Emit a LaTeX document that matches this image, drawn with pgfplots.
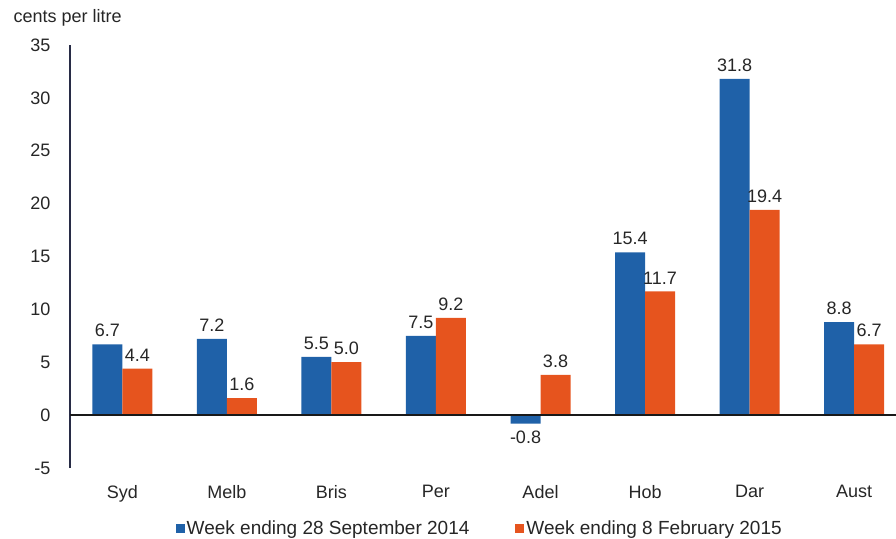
\documentclass[border=0pt]{standalone}
\usepackage{pgfplots}
\pgfplotsset{compat=1.18}
\usepackage{fontspec}
\setmainfont{Liberation Sans}
\definecolor{cblue}{RGB}{31,97,168}
\definecolor{corange}{RGB}{230,84,30}
\definecolor{caxis}{RGB}{40,44,70}
\begin{document}
\begin{tikzpicture}
\path[use as bounding box] (-70bp,-71bp) rectangle (826bp,468bp);
\begin{axis}[
  scale only axis, width=826bp, height=423bp,
  ybar=0pt, bar width=30bp,
  xmin=-0.5, xmax=7.4, ymin=-5, ymax=35,
  ytick={-5,0,5,10,15,20,25,30,35},
  xtick={0,1,2,3,4,5,6,7},
  xticklabels={Syd,Melb,Bris,Per,Adel,Hob,Dar,Aust},
  axis y line=left, axis x line=bottom,
  y axis line style={-, draw=caxis, line width=1.3pt},
  x axis line style={draw=none},
  major tick length=0pt,
  tick label style={font=\fontsize{18bp}{20bp}\selectfont, text=black!85},
  yticklabel style={xshift=-16bp},
  xticklabel style={yshift=-14bp},
  /pgf/number format/assume math mode=true,
  clip=false,
  nodes near coords,
  nodes near coords style={font=\fontsize{18bp}{20bp}\selectfont, text=black!85, inner sep=7bp, /pgf/number format/.cd, fixed, fixed zerofill, precision=1, assume math mode=true},
  legend style={at={(rel axis cs:0.496,0)}, anchor=center, yshift=-60bp, draw=none, fill=none,
    font=\fontsize{19bp}{21bp}\selectfont, text=black!85,
    /tikz/every even column/.append style={column sep=44bp}},
  legend columns=2,
  legend image code/.code={\fill[#1] (0bp,-4.5bp) rectangle (9bp,4.5bp);},
]
\addplot[fill=cblue, draw=none] coordinates {(0,6.7) (1,7.2) (2,5.5) (3,7.5) (4,-0.8) (5,15.4) (6,31.8) (7,8.8)};
\addplot[fill=corange, draw=none] coordinates {(0,4.4) (1,1.6) (2,5.0) (3,9.2) (4,3.8) (5,11.7) (6,19.4) (7,6.7)};
\legend{Week ending 28 September 2014, Week ending 8 February 2015}
\draw[black!90, line width=1.3pt] (axis cs:-0.5,0) -- (axis cs:7.4,0);
\node[anchor=west, font=\fontsize{18bp}{20bp}\selectfont, text=black!85] at (rel axis cs:0,1) [xshift=-60bp, yshift=27bp] {cents per litre};
\end{axis}
\end{tikzpicture}
\end{document}
